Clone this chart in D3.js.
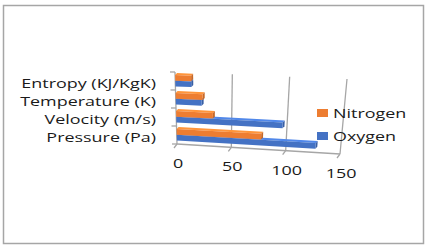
<!DOCTYPE html>
<html>
<head>
<meta charset="utf-8">
<script src="https://cdn.jsdelivr.net/npm/d3@7"></script>
<style>
  html, body { margin: 0; padding: 0; background: #fff; }
  svg text { font-family: "Open Sans", sans-serif; fill: #1a1a1a; }
</style>
</head>
<body>
<div id="chart"></div>
<script>
// values (bottom to top)
const categories = ["Pressure (Pa)", "Velocity (m/s)", "Temperature (K)", "Entropy (KJ/KgK)"];
const oxygen = [127, 96, 23, 14];
const nitrogen = [77, 33, 24, 14];
const seriesNames = ["Nitrogen", "Oxygen"];
const seriesColors = ["#ED7D31", "#4472C4"];
const valueTicks = [0, 50, 100, 150];

const W = 429, H = 248;
const svg = d3.select("#chart").append("svg")
  .attr("width", W).attr("height", H);

// outer frame
svg.append("rect")
  .attr("x", 3.5).attr("y", 5.5)
  .attr("width", 420).attr("height", 238)
  .attr("fill", "#fff")
  .attr("stroke", "#a6a6a6").attr("stroke-width", 1.5);

// fake 3d: the wall is a quad, bottom edge and top edge each a linear scale
const xBot = d3.scaleLinear().domain([0, 150]).range([177, 340]);
const yBot = d3.scaleLinear().domain([0, 150]).range([144, 154]);
const xTop = d3.scaleLinear().domain([0, 150]).range([175, 347]);
const yTop = d3.scaleLinear().domain([0, 150]).range([72, 79]);
// t = 0 bottom of wall, 1 top of wall
const tScale = d3.scaleBand().domain(d3.range(categories.length)).range([0, 1]);

function proj(v, t) {
  return [xBot(v) + (xTop(v) - xBot(v)) * t, yBot(v) + (yTop(v) - yBot(v)) * t];
}

const grid = svg.append("g");
// value gridlines on back wall
valueTicks.forEach(v => {
  const a = proj(v, 0), b = proj(v, 1);
  grid.append("line")
    .attr("x1", a[0]).attr("y1", a[1]).attr("x2", b[0]).attr("y2", b[1])
    .attr("stroke", "#a6a6a6").attr("stroke-width", 1.3);
});
// category ticks on the left edge
d3.range(categories.length + 1).forEach(i => {
  const p = proj(0, i / categories.length);
  grid.append("line")
    .attr("x1", p[0] - 5).attr("y1", p[1]).attr("x2", p[0]).attr("y2", p[1])
    .attr("stroke", "#a6a6a6").attr("stroke-width", 1.3);
});
// floor edge + ticks
const f0 = proj(0, 0), f1 = proj(150, 0);
grid.append("line")
  .attr("x1", f0[0]).attr("y1", f0[1]).attr("x2", f1[0]).attr("y2", f1[1])
  .attr("stroke", "#a6a6a6").attr("stroke-width", 1.3);
valueTicks.forEach(v => {
  const p = proj(v, 0);
  grid.append("line")
    .attr("x1", p[0]).attr("y1", p[1]).attr("x2", p[0] - 3).attr("y2", p[1] + 4)
    .attr("stroke", "#a6a6a6").attr("stroke-width", 1.3);
});

// bars
const bars = svg.append("g");
const poly = pts => pts.map(p => p.join(",")).join(" ");
const depth = [2, -2];

function drawBar(v, t0, t1, color) {
  const c = d3.color(color);
  const bl = proj(0, t0), br = proj(v, t0), tr = proj(v, t1), tl = proj(0, t1);
  const off = p => [p[0] + depth[0], p[1] + depth[1]];
  // top face
  bars.append("polygon")
    .attr("points", poly([tl, tr, off(tr), off(tl)]))
    .attr("fill", c.brighter(0.5));
  // end cap
  bars.append("polygon")
    .attr("points", poly([br, tr, off(tr), off(br)]))
    .attr("fill", c.darker(0.5));
  // front face
  bars.append("polygon")
    .attr("points", poly([bl, br, tr, tl]))
    .attr("fill", color);
}

// draw from top category down so lower bars sit in front
for (let i = categories.length - 1; i >= 0; i--) {
  const b0 = tScale(i), bw = tScale.bandwidth();
  // blue below, orange above
  drawBar(oxygen[i], b0 + bw * 0.2, b0 + bw * 0.51, seriesColors[1]);
  drawBar(nitrogen[i], b0 + bw * 0.52, b0 + bw * 0.83, seriesColors[0]);
}

const sx = 1.38;
// category labels
categories.forEach((name, i) => {
  const p = proj(0, tScale(i) + tScale.bandwidth() / 2);
  svg.append("text")
    .attr("transform", `translate(156,${p[1] + 6.5}) scale(${sx},1)`)
    .attr("text-anchor", "end")
    .style("font-size", "13px")
    .text(name);
});

// value labels
valueTicks.forEach(v => {
  const p = proj(v, 0);
  svg.append("text")
    .attr("transform", `translate(${p[0] + 1},${p[1] + 24}) scale(${sx},1)`)
    .attr("text-anchor", "middle")
    .style("font-size", "13px")
    .text(v);
});

// legend
const legend = svg.append("g");
seriesNames.forEach((name, i) => {
  const y = 109 + i * 23;
  legend.append("rect")
    .attr("x", 317).attr("y", y).attr("width", 11).attr("height", 8)
    .attr("fill", seriesColors[i]);
  legend.append("text")
    .attr("transform", `translate(333,${y + 8.5}) scale(${sx},1)`)
    .style("font-size", "13px")
    .text(name);
});
</script>
</body>
</html>
